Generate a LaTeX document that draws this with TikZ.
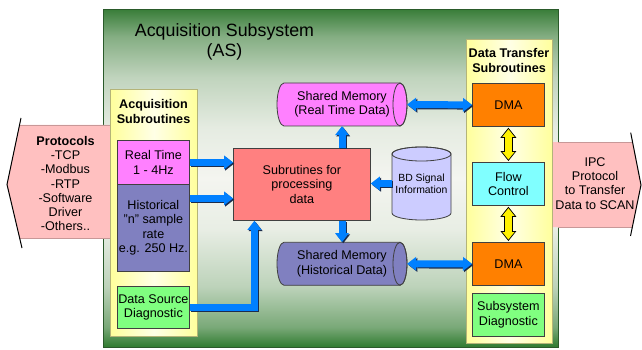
\documentclass[tikz,border=0pt]{standalone}
\usepackage{fontspec}
\setmainfont{Liberation Sans}
\usetikzlibrary{arrows.meta}

\definecolor{frameg}{HTML}{2A5A2A}
\definecolor{gtop}{HTML}{3A7E3A}
\definecolor{gmid}{HTML}{F4F5F0}
\definecolor{gbot}{HTML}{2E7A2E}
\definecolor{yedge}{HTML}{FFFF9C}
\definecolor{ymid}{HTML}{FFFFE6}
\definecolor{yline}{HTML}{B4B478}
\definecolor{boxline}{HTML}{404040}
\definecolor{magf}{HTML}{FF80FF}
\definecolor{purf}{HTML}{8080C0}
\definecolor{grnf}{HTML}{80FF80}
\definecolor{redf}{HTML}{FF8080}
\definecolor{orgf}{HTML}{FF8000}
\definecolor{cyaf}{HTML}{80FFFF}
\definecolor{lavf}{HTML}{CCCCFF}
\definecolor{pinkf}{HTML}{FFC0C0}
\definecolor{pinkline}{HTML}{C89898}
\definecolor{arrblue}{HTML}{0080FF}
\definecolor{arrshade}{HTML}{1C2C4C}

% background of the subsystem frame: green at both ends, pale in the middle
% (the filled path spans 25bp..75bp of the shading)
\pgfdeclareverticalshading{asbg}{100bp}{%
  color(0bp)=(gbot); color(25bp)=(gbot); color(28bp)=(gbot!62!gmid);
  color(34bp)=(gbot!28!gmid); color(42.5bp)=(gbot!6!gmid); color(50bp)=(gmid);
  color(57.5bp)=(gtop!8!gmid); color(65bp)=(gtop!28!gmid);
  color(71bp)=(gtop!60!gmid); color(75bp)=(gtop); color(100bp)=(gtop)}

% horizontal storage drum: left x, right x, centre y, fill colour
\newcommand{\hcylinder}[4]{%
  \filldraw[fill=#4, draw=boxline, line width=0.8pt]
    (#1+7,#3-21.5) -- (#2-7,#3-21.5)
    arc[start angle=90,end angle=-90,x radius=7pt,y radius=21.5pt]
    -- (#1+7,#3+21.5)
    arc[start angle=270,end angle=90,x radius=7pt,y radius=21.5pt] -- cycle;
  \draw[boxline, line width=0.8pt] (#2-7,#3) ellipse [x radius=7pt, y radius=21.5pt];}

\begin{document}
\begin{tikzpicture}[x=1pt,y=-1pt,
  bhead/.tip={Triangle[length=9pt,width=14pt,line width=0pt]},
  yhead/.tip={Triangle[length=10pt,width=16pt,line width=0pt]},
  yheadin/.tip={Triangle[length=7.6pt,width=12.2pt,line width=0pt]},
  txt/.style={align=center, inner sep=0pt, font=\fontsize{12.6}{14.3}\selectfont},
  boldtxt/.style={txt, font=\fontsize{12.6}{14.6}\selectfont\bfseries},
  box/.style={draw=boxline, line width=0.8pt, inner sep=0pt, align=center,
    anchor=north west, font=\fontsize{12.6}{14.4}\selectfont},
  ybox/.style={draw=yline, line width=0.8pt, inner sep=0pt, anchor=north west,
    left color=yedge, right color=yedge, middle color=ymid},
  barrow/.style={draw=arrblue, line width=7pt, -bhead},
  bdouble/.style={draw=arrblue, line width=7pt, bhead-bhead},
  bshadow/.style={draw=arrshade, transform canvas={xshift=1.2pt,yshift=-1.2pt}},
  youter/.style={draw=black, line width=9pt, yhead-yhead, shorten <=1pt, shorten >=1pt},
  yinner/.style={draw=yellow, line width=7pt, yheadin-yheadin, shorten <=2.4pt, shorten >=2.4pt},
  slant/.style={draw=black, line width=1pt, line join=miter}
]
\useasboundingbox (0,0) rectangle (642,350);

% subsystem frame
\node[draw=frameg, line width=1pt, inner sep=0pt, anchor=north west,
  shading=asbg, minimum width=455pt, minimum height=338pt] (as) at (103,9) {};
\node[txt, font=\fontsize{17.8}{20}\selectfont] (astitle) at (224.5,42)
  {Acquisition Subsystem\\(AS)};

% protocol arrows on both sides
\fill[pinkf] (112,125) -- (19.5,125) -- (7,184.5) -- (19.6,238) -- (112,238) -- cycle;
\draw[pinkline, line width=0.5pt] (112,125) -- (19.5,125) (19.6,238) -- (112,238);
\draw[slant] (21,118) -- (7,184.5) -- (22,248);
\node[txt] (proto) at (65.5,183.5)
  {\textbf{Protocols}\\-TCP\\-Modbus\\-RTP\\-Software\\Driver\\-Others..};

\fill[pinkf] (550,142) -- (632.5,142) -- (641,185) -- (632.4,227) -- (550,227) -- cycle;
\draw[pinkline, line width=0.5pt] (558,142) -- (632.5,142) (632.4,227) -- (558,227);
\draw[slant] (630.7,132.7) -- (641,185) -- (630.5,236);
\node[txt] (ipc) at (595,183.5) {IPC\\Protocol\\to Transfer\\Data to SCAN};

% subroutine groups
\node[ybox, minimum width=87pt, minimum height=247pt] (acq) at (110,89) {};
\node[boldtxt] (acqt) at (153.5,111.5) {Acquisition\\Subroutines};
\node[ybox, minimum width=86pt, minimum height=304pt] (dts) at (466,39) {};
\node[boldtxt] (dtst) at (509,60.5) {Data Transfer\\Subroutines};

% acquisition blocks
\node[box, fill=magf, minimum width=72pt, minimum height=44pt] (rt) at (117,140) {Real Time\\1 - 4Hz};
\node[box, fill=purf, minimum width=72pt, minimum height=87pt] (hist) at (117,184)
  {Historical\\"n" sample\\rate\\e.g. 250 Hz.};
\node[box, fill=grnf, minimum width=72pt, minimum height=42pt] (dsd) at (117,286) {Data Source\\Diagnostic};

% processing block
\node[box, draw=boxline, fill=redf, minimum width=137pt, minimum height=72pt] (proc) at (233,148)
  {Subrutines for\\processing\\data};

% transfer blocks
\node[box, fill=orgf, minimum width=72pt, minimum height=43pt] (dma1) at (472,83) {DMA};
\node[box, fill=cyaf, minimum width=72pt, minimum height=43pt] (flow) at (472,162) {Flow\\Control};
\node[box, fill=orgf, minimum width=72pt, minimum height=43pt] (dma2) at (472,242) {DMA};
\node[box, fill=grnf, minimum width=72pt, minimum height=43pt] (ssd) at (472,293) {Subsystem\\Diagnostic};

% shared memories
\hcylinder{277}{407}{104.5}{magf}
\node[txt, minimum width=130pt, minimum height=43pt] (smrt) at (342,104.5) {Shared Memory\\(Real Time Data)};
\hcylinder{277}{407}{263.75}{purf}
\node[txt, minimum width=130pt, minimum height=43pt] (smh) at (342,263.75) {Shared Memory\\(Historical Data)};

% signal information store
\filldraw[fill=lavf, draw=boxline, line width=0.8pt]
  (392,154) -- (392,213) arc[start angle=180,end angle=360,x radius=29.5pt,y radius=7pt]
  -- (451,154) arc[start angle=0,end angle=180,x radius=29.5pt,y radius=7pt] -- cycle;
\draw[boxline, line width=0.8pt] (421.5,154) ellipse [x radius=29.5pt, y radius=7pt];
\node[txt, font=\fontsize{10.4}{12}\selectfont, minimum width=59pt, minimum height=73pt] (bd) at (421.5,183.5)
  {BD Signal\\Information};

% data flow connectors
\coordinate (rtin) at (rt.east -| proc.west);
\coordinate (hin) at ([yshift=-14pt]proc.west);
\coordinate (dsdin) at ([xshift=-47.5pt]proc.south);
\coordinate (upout) at (smrt.south |- proc.north);
\coordinate (downout) at (smh.north |- proc.south);
\coordinate (bdin) at (bd.west -| proc.east);

\draw[barrow, bshadow] (rt.east) -- (rtin);
\draw[barrow] (rt.east) -- (rtin);
\draw[barrow, bshadow] (hin -| hist.east) -- (hin);
\draw[barrow] (hin -| hist.east) -- (hin);
\draw[barrow, bshadow, line join=miter] (dsd.east) -| (dsdin);
\draw[barrow, line join=miter] (dsd.east) -| (dsdin);
\draw[barrow, bshadow] (upout) -- (smrt.south);
\draw[barrow] (upout) -- (smrt.south);
\draw[barrow, bshadow] (downout) -- (smh.north);
\draw[barrow] (downout) -- (smh.north);
\draw[barrow, bshadow] (bd.west) -- (bdin);
\draw[barrow] (bd.west) -- (bdin);
\draw[bdouble, bshadow] (smrt.east) -- (dma1.west);
\draw[bdouble] (smrt.east) -- (dma1.west);
\draw[bdouble, bshadow] (smh.east) -- (dma2.west);
\draw[bdouble] (smh.east) -- (dma2.west);

\draw[youter] (dma1.south) -- (flow.north);
\draw[yinner] (dma1.south) -- (flow.north);
\draw[youter] (flow.south) -- (dma2.north);
\draw[yinner] (flow.south) -- (dma2.north);
\end{tikzpicture}
\end{document}
